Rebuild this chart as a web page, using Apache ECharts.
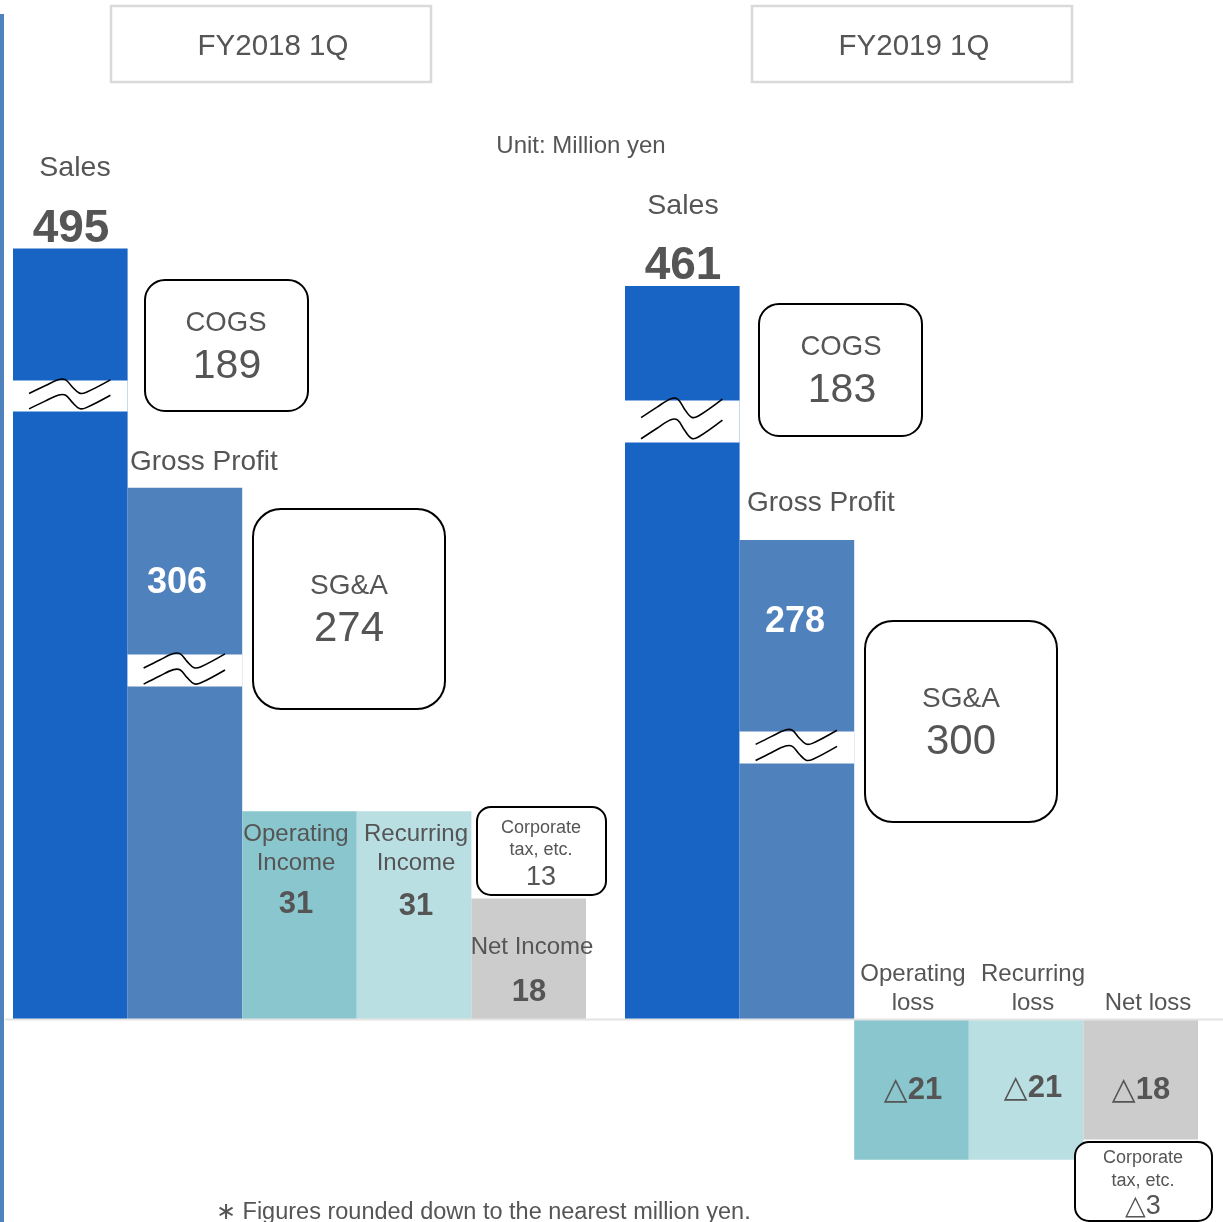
<!DOCTYPE html>
<html><head><meta charset="utf-8">
<script src="https://cdn.jsdelivr.net/npm/echarts@6/dist/echarts.min.js"></script>
<style>html,body{margin:0;padding:0;background:#fff}#c{width:1223px;height:1222px}</style>
</head><body><div id="c"></div>
<script>
// ---------------- data ----------------
const periods = ['FY2018 1Q', 'FY2019 1Q'];
const sales = [495, 461];
const cogs = [189, 183];
const grossProfit = [306, 278];
const sga = [274, 300];
const operatingIncome = [31, -21];
const recurringIncome = [31, -21];
const corporateTax = [13, -3];
const netIncome = [18, -18];
const smallLabels = [
  [['Operating', 'Income'], ['Recurring', 'Income'], ['Net Income']],
  [['Operating', 'loss'], ['Recurring', 'loss'], ['Net loss']]
];
const unitText = 'Unit: Million yen';
const footnote = '\u2217 Figures rounded down to the nearest million yen.';
// axis breaks (value units) on the broken bars: [start, end, gap]
const salesBreaks = [[90.7, 475.3, 4.6], [86.1, 444.0, 6.3]];
const gpBreaks = [[49.6, 281.1, 4.8], [38.2, 249.5, 4.8]];

// ---------------- layout / style ----------------
const K = 6.7, BASE_Y = 1019, BW = 114.6;
const periodLeft = [13, 625];
const SMALL_MIN = -25, SMALL_MAX = 45;
const FONT = '"Liberation Sans", Arial, sans-serif';
const TXT = '#555555';
const DY = 2.5;
const C = { sales: '#1764c4', gp: '#4f81bd', op: '#8ac6cd', rec: '#b9dfe2', net: '#cccccc' };

const L = [
  { head: [111, 6], sales: [75, 71, 166, 227], cogsBox: [145, 280, 163, 131], cogsTxt: [226, 321, 364],
    gpLabel: [130, 460], gpVal: [177, 581], sgaBox: [253, 509, 192, 200], sgaTxt: [349, 584, 627],
    small: [[296, 832, 902], [416, 832, 904], [532, 945, 990]],
    taxBox: [477, 807, 129, 88], taxTxt: [541, 826, 848, 875] },
  { head: [752, 6], sales: [683, 683, 204, 264], cogsBox: [759, 304, 163, 132], cogsTxt: [841, 345, 388],
    gpLabel: [747, 501], gpVal: [795, 620], sgaBox: [865, 621, 192, 201], sgaTxt: [961, 697, 740],
    small: [[913, 972, 1088], [1033, 972, 1086], [1148, 1001, 1088]],
    taxBox: [1075, 1142, 137, 79], taxTxt: [1143, 1156, 1179, 1204] }
];

const grids = [], xAxes = [], yAxes = [], series = [];
function addGrid(left, cats, min, max, brk) {
  const idx = grids.length;
  let span = max - min;
  if (brk) span = span - (brk[1] - brk[0]) + brk[2];
  const top = BASE_Y - (span + min) * K;
  grids.push({ left: left, top: top, width: BW * cats.length, height: span * K });
  xAxes.push({ type: 'category', gridIndex: idx, data: cats, show: false });
  const y = { type: 'value', gridIndex: idx, min: min, max: max,
    axisLine: { show: false }, axisTick: { show: false }, axisLabel: { show: false }, splitLine: { show: false } };
  if (brk) {
    y.breaks = [{ start: brk[0], end: brk[1], gap: brk[2] }];
    y.breakArea = { show: true, itemStyle: { color: '#fff', borderColor: '#fff', borderWidth: 0, opacity: 1 },
      zigzagAmplitude: 0, zigzagZ: 100, expandOnClick: false };
  }
  yAxes.push(y);
  return idx;
}
const WAVE = [[0.14, 0.42], [0.28, 0.17], [0.40, -0.03], [0.46, -0.02], [0.52, 0.22], [0.58, 0.41], [0.64, 0.38], [0.85, -0.02]];
function waveSeries(gi, brk) {
  return { type: 'custom', xAxisIndex: gi, yAxisIndex: gi, z: 500, silent: true,
    data: [[0, brk[0], brk[1]]], encode: { x: 0, y: [1, 2] },
    renderItem: function (params, api) {
      const cs = params.coordSys;
      const yLo = api.coord([0, api.value(1)])[1];
      const yHi = api.coord([0, api.value(2)])[1];
      const h = yLo - yHi;
      const pts = off => WAVE.map(p => [cs.x + p[0] * cs.width, yHi + (p[1] + off) * h]);
      const st = { stroke: '#000', lineWidth: 1.6, fill: null };
      return { type: 'group', children: [
        { type: 'polyline', shape: { points: pts(0), smooth: 0.35 }, style: st },
        { type: 'polyline', shape: { points: pts(0.5), smooth: 0.35 }, style: st }
      ] };
    } };
}
function bar(gi, items) {
  return { type: 'bar', xAxisIndex: gi, yAxisIndex: gi, barWidth: '100%', silent: true,
    data: items.map(d => ({ value: d[0], itemStyle: { color: d[1] } })) };
}

const graphic = [];
function txt(x, y, text, size, o) {
  o = o || {};
  const s = { text: text, fill: o.fill || TXT, fontSize: size, fontFamily: FONT,
    fontWeight: o.bold ? 'bold' : 'normal', align: o.align || 'center', textAlign: o.align || 'center',
    verticalAlign: 'middle', textVerticalAlign: 'middle' };
  if (o.rich) s.rich = o.rich;
  graphic.push({ type: 'text', x: x, y: y + DY, z: 100, silent: true, style: s });
}
function box(x, y, w, h, r, stroke, lw) {
  graphic.push({ type: 'rect', z: 90, silent: true, shape: { x: x, y: y, width: w, height: h, r: r },
    style: { fill: '#fff', stroke: stroke, lineWidth: lw } });
}
function valText(x, y, v, size, bold) {
  if (v < 0) {
    txt(x, y, '{t|\u25B3}{b|' + (-v) + '}', size, { rich: {
      t: { fontSize: size, fontFamily: '"DejaVu Sans", sans-serif', fill: TXT, fontWeight: 'normal' },
      b: { fontSize: size, fontFamily: FONT, fill: TXT, fontWeight: bold ? 'bold' : 'normal' } } });
  } else txt(x, y, String(v), size, { bold: bold });
}

// decorations
graphic.push({ type: 'rect', z: 100, silent: true, shape: { x: 0, y: 14, width: 4, height: 1208 }, style: { fill: '#4f81bd' } });
graphic.push({ type: 'line', z: 100, silent: true, shape: { x1: 5, y1: BASE_Y + 0.5, x2: 1223, y2: BASE_Y + 0.5 }, style: { stroke: '#e4e4e4', lineWidth: 2 } });
txt(581, 144, unitText, 24);
txt(216, 1210, footnote, 23.5, { align: 'left' });

for (let p = 0; p < 2; p++) {
  const lay = L[p];
  const x0 = periodLeft[p];
  const gS = addGrid(x0, ['Sales'], 0, sales[p], salesBreaks[p]);
  series.push(bar(gS, [[sales[p], C.sales]]));
  series.push(waveSeries(gS, salesBreaks[p]));
  const gG = addGrid(x0 + BW, ['Gross Profit'], 0, grossProfit[p], gpBreaks[p]);
  series.push(bar(gG, [[grossProfit[p], C.gp]]));
  series.push(waveSeries(gG, gpBreaks[p]));
  const gM = addGrid(x0 + 2 * BW, smallLabels[p].map(a => a.join(' ')), SMALL_MIN, SMALL_MAX, null);
  series.push(bar(gM, [[operatingIncome[p], C.op], [recurringIncome[p], C.rec], [netIncome[p], C.net]]));

  // header
  box(lay.head[0], lay.head[1], 320, 76, 0, '#d9d9d9', 2.5);
  txt(lay.head[0] + 162, lay.head[1] + 38, periods[p], 29.5);
  // sales
  txt(lay.sales[0], lay.sales[2], 'Sales', 28.5);
  valText(lay.sales[1], lay.sales[3], sales[p], 46, true);
  // cogs
  box(lay.cogsBox[0], lay.cogsBox[1], lay.cogsBox[2], lay.cogsBox[3], 20, '#000', 2);
  txt(lay.cogsTxt[0], lay.cogsTxt[1], 'COGS', 27.5);
  valText(lay.cogsTxt[0] + 1, lay.cogsTxt[2], cogs[p], 41, false);
  // gross profit
  txt(lay.gpLabel[0], lay.gpLabel[1], 'Gross Profit', 28, { align: 'left' });
  txt(lay.gpVal[0], lay.gpVal[1], String(grossProfit[p]), 36, { bold: true, fill: '#ffffff' });
  // sga
  box(lay.sgaBox[0], lay.sgaBox[1], lay.sgaBox[2], lay.sgaBox[3], 28, '#000', 2);
  txt(lay.sgaTxt[0], lay.sgaTxt[1], 'SG&A', 28);
  valText(lay.sgaTxt[0], lay.sgaTxt[2], sga[p], 42, false);
  // small bars labels
  const vals = [operatingIncome[p], recurringIncome[p], netIncome[p]];
  for (let i = 0; i < 3; i++) {
    const s = lay.small[i];
    const lines = smallLabels[p][i];
    lines.forEach((ln, j) => txt(s[0], s[1] + j * 29, ln, 24));
    valText(s[0] - (i === 2 && p === 1 ? 7 : (p === 0 && i === 2 ? 3 : 0)), s[2], vals[i], 31, true);
  }
  // corporate tax
  box(lay.taxBox[0], lay.taxBox[1], lay.taxBox[2], lay.taxBox[3], 14, '#000', 2);
  txt(lay.taxTxt[0], lay.taxTxt[1], 'Corporate', 18);
  txt(lay.taxTxt[0], lay.taxTxt[2], 'tax, etc.', 18);
  valText(lay.taxTxt[0], lay.taxTxt[3], corporateTax[p], 27, false);
}

const chart = echarts.init(document.getElementById('c'), null, { renderer: 'canvas' });
chart.setOption({
  animation: false,
  backgroundColor: '#fff',
  grid: grids, xAxis: xAxes, yAxis: yAxes, series: series,
  graphic: { elements: graphic }
});
</script></body></html>
